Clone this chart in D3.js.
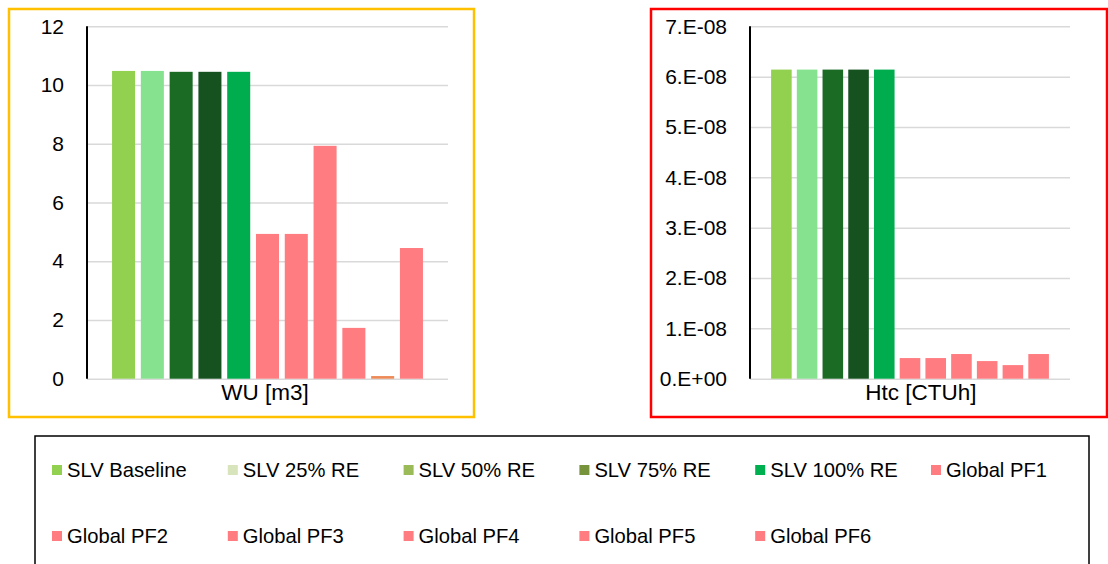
<!DOCTYPE html>
<html>
<head>
<meta charset="utf-8">
<script src="https://cdn.jsdelivr.net/npm/d3@7"></script>
<style>
  html, body { margin: 0; padding: 0; background: #fff; }
  svg { display: block; }
</style>
</head>
<body>
<script>
// series names (one bar per series in each panel)
var seriesNames = ["SLV Baseline", "SLV 25% RE", "SLV 50% RE", "SLV 75% RE", "SLV 100% RE",
    "Global PF1", "Global PF2", "Global PF3", "Global PF4", "Global PF5", "Global PF6"];
var wuValues = [10.48, 10.48, 10.45, 10.45, 10.45, 4.93, 4.93, 7.93, 1.73, 0.09, 4.45];
var htcValues = [6.14e-8, 6.14e-8, 6.14e-8, 6.14e-8, 6.14e-8, 0.41e-8, 0.41e-8, 0.49e-8, 0.35e-8, 0.27e-8, 0.49e-8];
var wuTicks = [0, 2, 4, 6, 8, 10, 12];
var htcTicks = [0, 1e-8, 2e-8, 3e-8, 4e-8, 5e-8, 6e-8, 7e-8];
var wuColors = ["#92D050", "#86E28F", "#1B6B25", "#15521F", "#00AD4E",
    "#FF7C80", "#FF7C80", "#FF7C80", "#FF7C80", "#EE8A57", "#FF7C80"];
var htcColors = ["#92D050", "#86E28F", "#1B6B25", "#15521F", "#00AD4E",
    "#FF7C80", "#FF7C80", "#FF7C80", "#FF7C80", "#FF7C80", "#FF7C80"];
var legendColors = ["#92D050", "#D8E4BC", "#9BBB59", "#77933C", "#00B050",
    "#FF7C80", "#FF7C80", "#FF7C80", "#FF7C80", "#FF7C80", "#FF7C80"];

var width = 1108, height = 564;
var font = "'Liberation Sans', Arial, sans-serif";

var svg = d3.select("body").append("svg")
    .attr("width", width)
    .attr("height", height);

// excel-like "7.E-08" labels
function sciFormat(v) {
    var s = v.toExponential(0).split("e");
    var exp = parseInt(s[1], 10);
    var sign = exp < 0 ? "-" : "+";
    var e = Math.abs(exp);
    return s[0] + ".E" + sign + (e < 10 ? "0" + e : e);
}

function drawPanel(opts) {
    // frame
    svg.append("rect")
        .attr("x", opts.frame[0]).attr("y", opts.frame[1])
        .attr("width", opts.frame[2]).attr("height", opts.frame[3])
        .attr("fill", "none")
        .attr("stroke", opts.frameColor)
        .attr("stroke-width", 2.5);

    var x = d3.scaleBand()
        .domain(seriesNames)
        .range([opts.left, opts.right])
        .paddingInner(0.2)
        .paddingOuter(opts.outer);

    var y = d3.scaleLinear()
        .domain([0, opts.max])
        .range([378.7, 26.3]);

    var g = svg.append("g");

    // gridlines
    g.append("g")
        .attr("transform", "translate(" + opts.left + ",0)")
        .call(d3.axisLeft(y).tickValues(opts.ticks).tickSize(-(opts.right - opts.left)).tickFormat(""))
        .call(function (a) {
            a.select(".domain").remove();
            a.selectAll("line").attr("stroke", "#D9D9D9").attr("stroke-width", 1.5);
        });

    // bars
    g.selectAll("rect.bar")
        .data(opts.values)
        .enter()
        .append("rect")
        .attr("class", "bar")
        .attr("x", function (d, i) { return x(seriesNames[i]); })
        .attr("width", x.bandwidth())
        .attr("y", function (d) { return y(d); })
        .attr("height", function (d) { return y(0) - y(d); })
        .attr("fill", function (d, i) { return opts.colors[i]; });

    // y axis labels
    g.append("g")
        .attr("transform", "translate(" + opts.left + ",0)")
        .call(d3.axisLeft(y).tickValues(opts.ticks).tickSize(0).tickPadding(opts.pad).tickFormat(opts.format))
        .call(function (a) {
            a.select(".domain").remove();
            a.selectAll("text")
                .attr("font-family", font)
                .attr("font-size", 21)
                .attr("fill", "#000");
        });

    // axis line
    g.append("line")
        .attr("x1", opts.left).attr("x2", opts.left)
        .attr("y1", y(opts.max)).attr("y2", y(0))
        .attr("stroke", "#000")
        .attr("stroke-width", 2);

    g.append("text")
        .attr("x", opts.titleX)
        .attr("y", 400)
        .attr("text-anchor", "middle")
        .attr("font-family", font)
        .attr("font-size", 22.5)
        .attr("fill", "#000")
        .text(opts.title);
}

drawPanel({
    frame: [9, 9, 465, 408], frameColor: "#FFC000",
    left: 87, right: 448, outer: 0.87,
    max: 12, ticks: wuTicks, values: wuValues, colors: wuColors,
    format: d3.format("d"), pad: 23,
    title: "WU [m3]", titleX: 265
});

drawPanel({
    frame: [651, 9, 456, 408], frameColor: "#FF0000",
    left: 750, right: 1070, outer: 0.82,
    max: 7e-8, ticks: htcTicks, values: htcValues, colors: htcColors,
    format: sciFormat, pad: 23,
    title: "Htc [CTUh]", titleX: 921
});

// legend
svg.append("rect")
    .attr("x", 35).attr("y", 436)
    .attr("width", 1054).attr("height", 170)
    .attr("fill", "none")
    .attr("stroke", "#000")
    .attr("stroke-width", 1.5);

var legendCols = 6;
var item = svg.selectAll("g.legend")
    .data(seriesNames)
    .enter()
    .append("g")
    .attr("class", "legend")
    .attr("transform", function (d, i) {
        var col = i % legendCols, row = Math.floor(i / legendCols);
        return "translate(" + (52 + col * 175.8) + "," + (470 + row * 66) + ")";
    });

item.append("rect")
    .attr("x", 0).attr("y", -5)
    .attr("width", 10).attr("height", 10)
    .attr("fill", function (d, i) { return legendColors[i]; });

item.append("text")
    .attr("x", 15)
    .attr("y", 7)
    .attr("font-family", font)
    .attr("font-size", 20.2)
    .attr("fill", "#000")
    .text(function (d) { return d; });
</script>
</body>
</html>
